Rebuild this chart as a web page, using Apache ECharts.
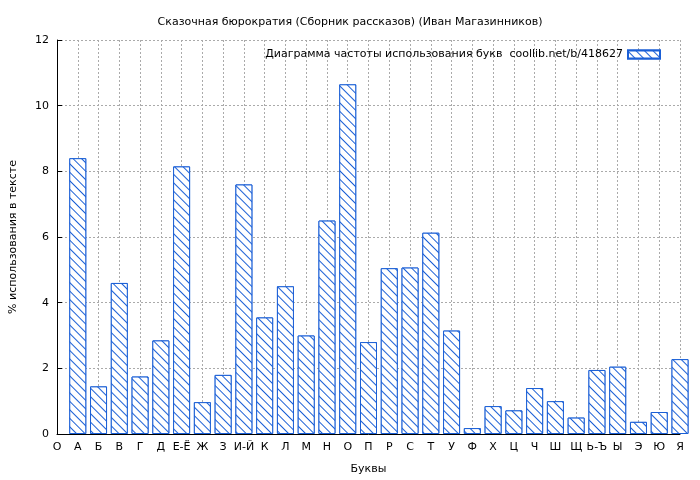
<!DOCTYPE html><html><head><meta charset="utf-8"><script src="https://cdn.jsdelivr.net/npm/echarts@6/dist/echarts.min.js"></script></head><body style="margin:0;background:#fff"><div id="c" style="width:700px;height:480px"></div><script>
const categories=['О','А','Б','В','Г','Д','Е-Ё','Ж','З','И-Й','К','Л','М','Н','О','П','Р','С','Т','У','Ф','Х','Ц','Ч','Ш','Щ','Ь-Ъ','Ы','Э','Ю','Я'];
const values=[null,8.4,1.45,4.6,1.75,2.85,8.15,0.97,1.8,7.6,3.55,4.5,3.0,6.5,10.65,2.8,5.05,5.07,6.13,3.15,0.18,0.85,0.72,1.4,1.0,0.5,1.95,2.05,0.37,0.67,2.28];
const yTicks=[0,2,4,6,8,10,12];
const blue='#1a5fd6';
const font='DejaVu Sans';
const c=echarts.init(document.getElementById('c'));
const decal={symbol:'rect',symbolSize:1,dashArrayX:[1,0],dashArrayY:[1,4.5],rotation:Math.PI/4,color:blue,backgroundColor:'#fff'};
const lname='Диаграмма частоты использования букв  coollib.net/b/418627';
c.setOption({animation:false,
title:{text:'Сказочная бюрократия (Сборник рассказов) (Иван Магазинников)',left:'center',top:12,textStyle:{fontFamily:font,fontSize:11,fontWeight:'normal',color:'#000'}},
legend:{top:44,right:34,itemWidth:32,itemHeight:8,icon:'rect',align:'right',textStyle:{fontFamily:font,fontSize:11,color:'#000'},data:[lname],itemGap:6},
grid:{left:55,right:20,top:40,bottom:46},
xAxis:{type:'value',min:0,max:30,interval:1,name:'Буквы',nameLocation:'middle',nameGap:30,nameTextStyle:{fontFamily:font,fontSize:11,color:'#000'},
axisLine:{lineStyle:{color:'#000'}},axisTick:{show:true,inside:true,lineStyle:{color:'#000'}},axisLabel:{interval:0,showMinLabel:true,showMaxLabel:true,fontFamily:font,fontSize:11,color:'#000',formatter:v=>categories[v]||''},
splitLine:{show:true,lineStyle:{type:[2,2],color:'#aaa'}}},
yAxis:{type:'value',min:0,max:12,interval:2,name:'% использования в тексте',nameLocation:'middle',nameGap:38,nameTextStyle:{fontFamily:font,fontSize:11,color:'#000'},
axisLine:{show:true,lineStyle:{color:'#000'}},axisTick:{show:true,inside:true,lineStyle:{color:'#000'}},axisLabel:{fontFamily:font,fontSize:11,color:'#000',formatter:v=>yTicks.includes(v)?String(v):''},
splitLine:{lineStyle:{type:[2,2],color:'#aaa'}}},
series:[{name:lname,type:'bar',data:values.map((v,i)=>[i,v]),barWidth:17,clip:true,
itemStyle:{color:'#fff',borderColor:blue,borderWidth:1,decal:decal}}]
});
</script></body></html>
